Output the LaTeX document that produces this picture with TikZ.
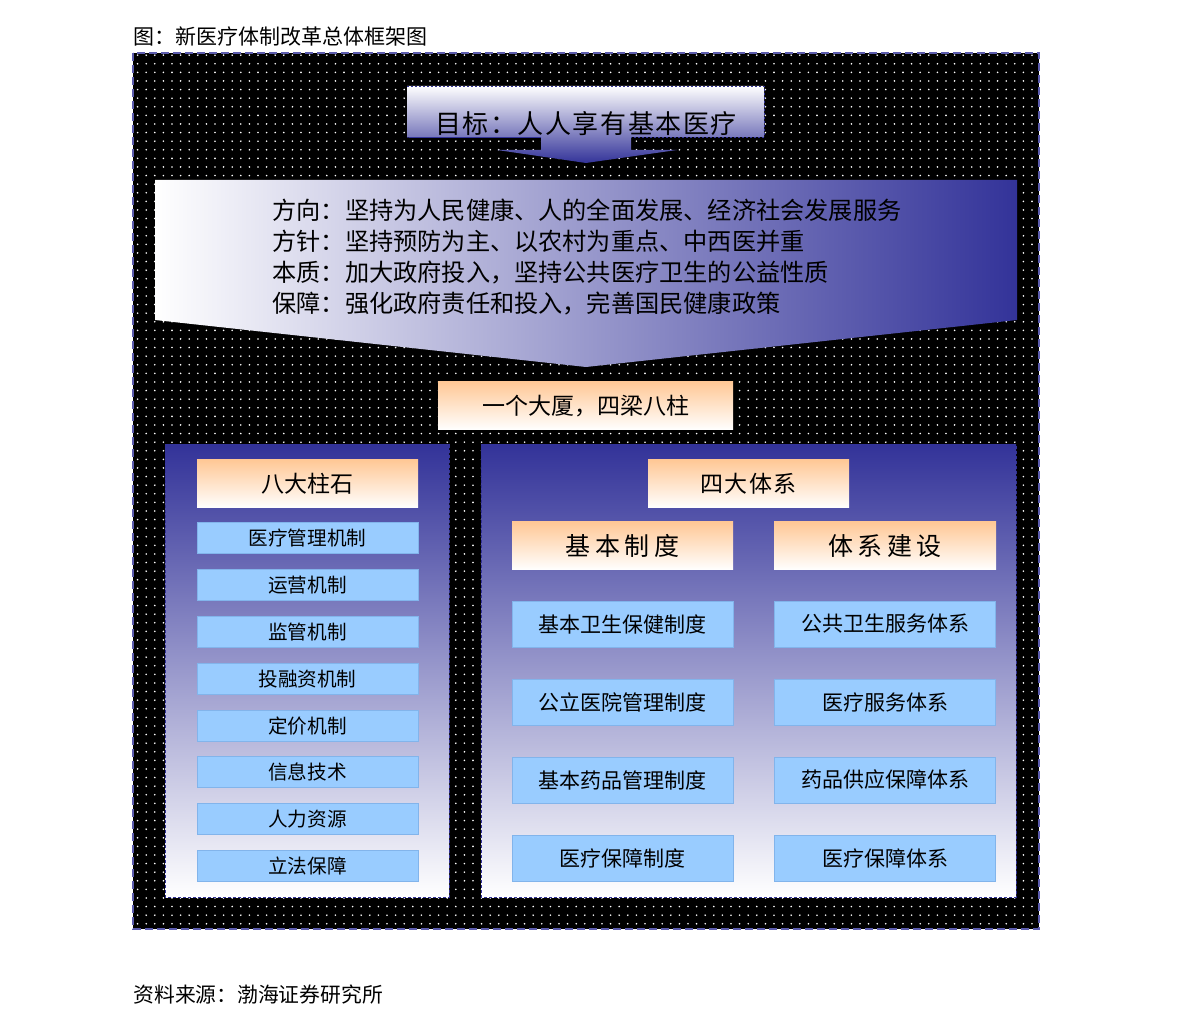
\documentclass[tikz,border=0pt]{standalone}
\usepackage{fontspec}
\setmainfont{Noto Sans CJK SC}
\usetikzlibrary{patterns.meta}
\definecolor{dblue}{RGB}{51,51,153}
\definecolor{peach}{RGB}{255,200,150}
\definecolor{lblue}{RGB}{153,204,255}
\definecolor{lbedge}{RGB}{130,180,235}
\begin{document}
\begin{tikzpicture}[x=0.5pt,y=-0.5pt,
  obox/.style={rectangle, top color=peach, bottom color=white, inner sep=0pt, minimum height=24pt},
  litem/.style={rectangle, fill=lblue, draw=lbedge, line width=0.4pt, inner sep=0pt, minimum width=110.5pt, minimum height=15.5pt, font=\fontsize{9.8}{11}\selectfont},
  ritem/.style={rectangle, fill=lblue, draw=lbedge, line width=0.4pt, inner sep=0pt, minimum width=110.5pt, minimum height=23pt, font=\fontsize{10.5}{12}\selectfont},
  panel/.style={top color=dblue, bottom color=white, draw=dblue, line width=0.5pt, dash pattern=on 1.5pt off 1pt},
]
\useasboundingbox (0,0) rectangle (1191,1027);
\fill[white] (0,0) rectangle (1191,1027);

% title and source
\node[anchor=west, inner sep=0pt, font=\fontsize{10.5}{12}\selectfont] (title) at (133,37) {图：新医疗体制改革总体框架图};
\node[anchor=west, inner sep=0pt, font=\fontsize{10.4}{12}\selectfont] (source) at (133,995) {资料来源：渤海证券研究所};

% frame
\fill[black] (133,53) rectangle (1039,929);
\fill[pattern={Dots[distance=4.3pt,radius=0.45pt]}, pattern color=white] (133,53) rectangle (1039,929);
\draw[dblue!80!white, line width=1pt, dash pattern=on 4pt off 2pt] (133,53) rectangle (1039,929);

% goal arrow
\shade[top color=white, bottom color=dblue] (407,86) -- (764,86) -- (764,137) -- (631,137) -- (631,150) -- (677,150) -- (586,163) -- (497,150) -- (541,150) -- (541,137) -- (407,137) -- cycle;
\draw[dblue, line width=0.4pt, dash pattern=on 1pt off 1pt] (407,86) -- (764,86) -- (764,137) -- (631,137) (541,137) -- (407,137) -- cycle;
\node[inner sep=0pt, font=\fontsize{13}{15}\selectfont\addfontfeature{LetterSpace=6}] (goal) at (586,124) {目标：人人享有基本医疗};

% direction pentagon
\shade[left color=white, right color=dblue] (155,180) -- (1017,180) -- (1017,320) -- (586,367) -- (155,320) -- cycle;
\node[anchor=west, align=left, inner sep=0pt, font=\fontsize{12.1}{15.5}\selectfont] (dir) at (272,257)
 {方向：坚持为人民健康、人的全面发展、经济社会发展服务\\
  方针：坚持预防为主、以农村为重点、中西医并重\\
  本质：加大政府投入，坚持公共医疗卫生的公益性质\\
  保障：强化政府责任和投入，完善国民健康政策};

% building
\node[obox, minimum width=147.5pt, font=\fontsize{11.5}{13}\selectfont] (building) at (585.5,406) {一个大厦，四梁八柱};

% panels
\path[panel] (165,445) rectangle (449,897);
\path[panel] (481,445) rectangle (1016,897);

% left panel
\node[obox, minimum width=110.5pt, font=\fontsize{11.5}{13}\selectfont] (pillars) at (307.5,484) {八大柱石};
\node[litem] (l1) at (307.5,538) {医疗管理机制};
\node[litem] (l2) at (307.5,585) {运营机制};
\node[litem] (l3) at (307.5,632) {监管机制};
\node[litem] (l4) at (307.5,679) {投融资机制};
\node[litem] (l5) at (307.5,726) {定价机制};
\node[litem] (l6) at (307.5,772) {信息技术};
\node[litem] (l7) at (307.5,819) {人力资源};
\node[litem] (l8) at (307.5,866) {立法保障};

% right panel
\node[obox, minimum width=100.5pt, font=\fontsize{11.5}{13}\selectfont\addfontfeature{LetterSpace=6}] (systems) at (748.5,484) {四大体系};
\node[obox, minimum width=110.5pt, font=\fontsize{12.5}{14}\selectfont\addfontfeature{LetterSpace=18}] (basic) at (622.5,546) {基本制度};
\node[obox, minimum width=111pt, font=\fontsize{12.5}{14}\selectfont\addfontfeature{LetterSpace=18}] (build) at (885,546) {体系建设};

\node[ritem] (r1) at (622.5,624) {基本卫生保健制度};
\node[ritem] (r2) at (622.5,702) {公立医院管理制度};
\node[ritem] (r3) at (622.5,780) {基本药品管理制度};
\node[ritem] (r4) at (622.5,858) {医疗保障制度};
\node[ritem] (s1) at (885,624) {公共卫生服务体系};
\node[ritem] (s2) at (885,702) {医疗服务体系};
\node[ritem] (s3) at (885,780) {药品供应保障体系};
\node[ritem] (s4) at (885,858) {医疗保障体系};
\end{tikzpicture}
\end{document}
